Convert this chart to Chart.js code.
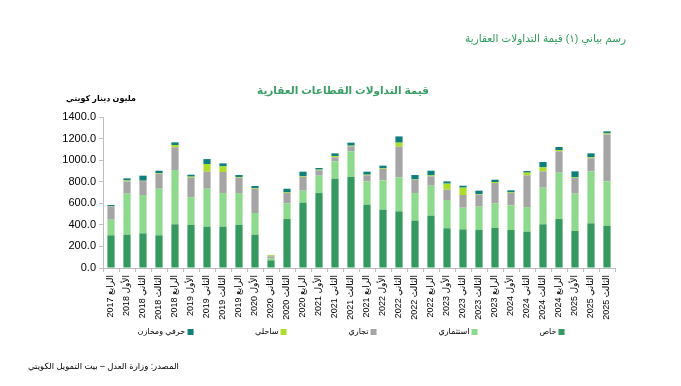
<!DOCTYPE html>
<html lang="ar">
<head>
<meta charset="utf-8">
<script src="https://cdn.jsdelivr.net/npm/chart.js@4.4.1/dist/chart.umd.min.js"></script>
<style>
    body { margin: 0; width: 681px; height: 386px; background: #fff; position: relative; overflow: hidden; font-family: "Liberation Sans", "DejaVu Sans", sans-serif; }
    .txt { position: absolute; white-space: nowrap; direction: rtl; line-height: 1; }
    #header { right: 55px; top: 38px; transform: translateY(-50%); font-size: 10.5px; color: #2e9a5c; }
    #title { left: 343px; top: 90px; transform: translate(-50%, -50%); font-size: 10.5px; font-weight: bold; color: #3a9e66; }
    #unit { left: 101px; top: 99px; transform: translate(-50%, -50%); font-size: 8px; font-weight: bold; color: #000; }
    #source { left: 28px; top: 366px; transform: translateY(-50%); font-size: 8.5px; color: #000; }
    #wrap { position: absolute; left: 0; top: 0; width: 681px; height: 386px; }
    #legend { position: absolute; left: 351px; top: 332px; transform: translate(-50%, -50%); display: flex; direction: rtl; gap: 62px; font-size: 8px; line-height: 1; white-space: nowrap; }
    #legend .item { display: flex; align-items: center; gap: 2px; }
    #legend .box { width: 6px; height: 6px; }
</style>
</head>
<body>
<div id="wrap"><canvas id="chart" width="681" height="386"></canvas></div>
<div class="txt" id="header">رسم بياني (١) قيمة التداولات العقارية</div>
<div class="txt" id="title">قيمة التداولات القطاعات العقارية</div>
<div class="txt" id="unit">مليون دينار كويتي</div>
<div id="legend"></div>
<div class="txt" id="source">المصدر: وزارة العدل – بيت التمويل الكويتي</div>
<script>
// quarters, Q4 2017 .. Q3 2025
const categories = [
    'الرابع 2017',
    'الأول 2018', 'الثاني 2018', 'الثالث 2018', 'الرابع 2018',
    'الأول 2019', 'الثاني 2019', 'الثالث 2019', 'الرابع 2019',
    'الأول 2020', 'الثاني 2020', 'الثالث 2020', 'الرابع 2020',
    'الأول 2021', 'الثاني 2021', 'الثالث 2021', 'الرابع 2021',
    'الأول 2022', 'الثاني 2022', 'الثالث 2022', 'الرابع 2022',
    'الأول 2023', 'الثاني 2023', 'الثالث 2023', 'الرابع 2023',
    'الأول 2024', 'الثاني 2024', 'الثالث 2024', 'الرابع 2024',
    'الأول 2025', 'الثاني 2025', 'الثالث 2025'
];

// million KWD
const khas       = [303, 309, 321, 303, 405, 399, 383, 383, 399, 309, 71, 454, 606, 695, 828, 844, 587, 541, 525, 439, 485, 368, 358, 355, 371, 352, 337, 405, 454, 343, 414, 392];
const istithmari = [145, 380, 356, 432, 503, 256, 352, 312, 296, 201, 19, 146, 111, 161, 161, 238, 216, 272, 315, 256, 278, 262, 201, 214, 229, 229, 228, 340, 430, 346, 482, 411];
const tijari     = [124, 114, 129, 139, 211, 182, 158, 195, 142, 225, 18, 95, 127, 49, 37, 46, 56, 105, 285, 124, 87, 96, 118, 111, 188, 114, 294, 151, 198, 145, 121, 436];
const sahili     = [3, 9, 3, 6, 21, 10, 71, 52, 7, 7, 9, 6, 6, 7, 12, 6, 6, 6, 37, 3, 9, 56, 68, 6, 9, 6, 25, 37, 12, 6, 9, 9];
const hirafi     = [9, 19, 47, 22, 25, 18, 46, 28, 18, 18, 3, 34, 43, 15, 25, 28, 28, 25, 58, 40, 43, 21, 18, 31, 22, 19, 15, 50, 28, 56, 37, 19];

const yTicks = [0, 200, 400, 600, 800, 1000, 1200, 1400];

Chart.defaults.font.family = '"Liberation Sans", "DejaVu Sans", sans-serif';
Chart.defaults.color = '#000';

const axisGray = '#bfbfbf';

const chart = new Chart(document.getElementById('chart'), {
    type: 'bar',
    data: {
        labels: categories,
        datasets: [
            { label: 'خاص', data: khas, backgroundColor: '#36995f' },
            { label: 'استثماري', data: istithmari, backgroundColor: '#8dda8d' },
            { label: 'تجاري', data: tijari, backgroundColor: '#a5a5a5' },
            { label: 'ساحلي', data: sahili, backgroundColor: '#addf2a' },
            { label: 'حرفي ومخازن', data: hirafi, backgroundColor: '#0f7f7c' }
        ]
    },
    options: {
        responsive: false,
        animation: false,
        layout: { padding: { top: 117, left: 50, right: 66, bottom: 58 } },
        datasets: { bar: { categoryPercentage: 1, barPercentage: 0.45 } },
        plugins: {
            legend: { display: false },
            tooltip: { enabled: false },
            title: { display: false }
        },
        scales: {
            x: {
                stacked: true,
                grid: { drawOnChartArea: false, tickLength: 4, color: axisGray, offset: true },
                border: { color: axisGray },
                ticks: {
                    maxRotation: 90, minRotation: 90, autoSkip: false, padding: 3, font: { size: 9 },
                    // keep arabic words right of the year
                    callback: function(v) { return '\u202B' + this.getLabelForValue(v) + '\u202C'; }
                },
                afterFit: scale => { scale.height = 60; }
            },
            y: {
                stacked: true,
                min: yTicks[0],
                max: yTicks[yTicks.length - 1],
                afterBuildTicks: scale => { scale.ticks = yTicks.map(v => ({ value: v })); },
                ticks: { callback: v => v.toFixed(1), font: { size: 11 }, padding: 3, autoSkip: false },
                grid: { drawOnChartArea: false, tickLength: 4, color: axisGray },
                border: { color: axisGray },
                afterFit: scale => { scale.width = 53; }
            }
        }
    }
});

// html legend, right to left like the original
const legendEl = document.getElementById('legend');
chart.data.datasets.forEach(ds => {
    const item = document.createElement('div');
    item.className = 'item';
    item.innerHTML = '<span class="box" style="background:' + ds.backgroundColor + '"></span><span>' + ds.label + '</span>';
    legendEl.appendChild(item);
});
</script>
</body>
</html>
